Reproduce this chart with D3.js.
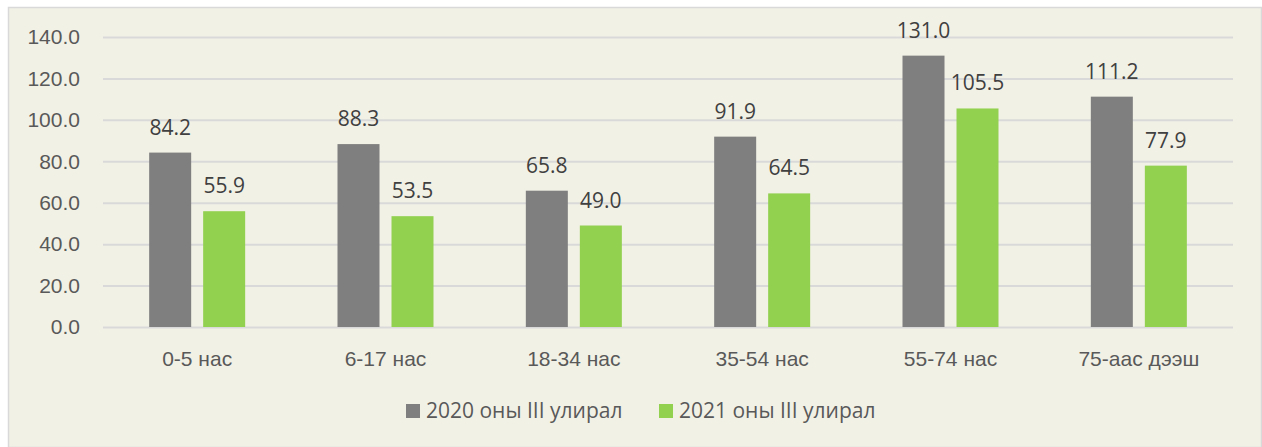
<!DOCTYPE html>
<html>
<head>
<meta charset="utf-8">
<script src="https://cdn.jsdelivr.net/npm/d3@7"></script>
<style>
  html, body { margin: 0; padding: 0; background: #fff; }
  svg { display: block; font-family: "Open Sans", sans-serif; }
</style>
</head>
<body>
<div id="chart"></div>
<script>
// chart values
const categories = ["0-5 нас", "6-17 нас", "18-34 нас", "35-54 нас", "55-74 нас", "75-аас дээш"];
const seriesNames = ["2020 оны III улирал", "2021 оны III улирал"];
const values2020 = [84.2, 88.3, 65.8, 91.9, 131.0, 111.2];
const values2021 = [55.9, 53.5, 49.0, 64.5, 105.5, 77.9];
const yTicks = [0, 20, 40, 60, 80, 100, 120, 140];

const colors = { s2020: "#7f7f7f", s2021: "#92d050", bg: "#f2f1e6", grid: "#d9d9d9", tick: "#595959", label: "#404040" };
const fontSize = "21px";

const width = 1262, height = 447;
const margin = { left: 103, right: 29, top: 37, bottom: 120 };

const svg = d3.select("#chart").append("svg")
    .attr("width", width)
    .attr("height", height);

// background box
svg.append("rect")
    .attr("x", 8.5).attr("y", 7.5)
    .attr("width", width - 9).attr("height", height - 7)
    .attr("fill", colors.bg)
    .attr("stroke", colors.grid)
    .attr("stroke-width", 1.5);

const data = categories.map((c, i) => ({ cat: c, vals: [values2020[i], values2021[i]] }));

const x0 = d3.scaleBand()
    .domain(categories)
    .range([margin.left, width - margin.right]);

const x1 = d3.scaleBand()
    .domain(seriesNames)
    .range([0, 96])
    .paddingInner(12 / 54);

const y = d3.scaleLinear()
    .domain([0, 140])
    .range([height - margin.bottom, margin.top]);

const color = d3.scaleOrdinal().domain(seriesNames).range([colors.s2020, colors.s2021]);

// y axis + gridlines
const yAxis = svg.append("g")
    .attr("transform", `translate(${margin.left},0)`)
    .call(d3.axisLeft(y).tickValues(yTicks).tickFormat(d3.format(".1f"))
        .tickSize(-(width - margin.left - margin.right)).tickPadding(23));
yAxis.select(".domain").remove();
yAxis.selectAll(".tick line").attr("stroke", colors.grid).attr("stroke-width", 2);
yAxis.selectAll(".tick text").attr("fill", colors.tick).style("font-size", fontSize);

// x axis labels
const xAxis = svg.append("g")
    .attr("transform", `translate(0,${y(0)})`)
    .call(d3.axisBottom(x0).tickSize(0).tickPadding(24));
xAxis.select(".domain").remove();
xAxis.selectAll(".tick text").attr("fill", colors.tick).style("font-size", fontSize);

// bars
const groups = svg.append("g").selectAll("g")
    .data(data)
    .join("g")
    .attr("transform", d => `translate(${x0(d.cat) + (x0.bandwidth() - 96) / 2},0)`);

const cells = groups.selectAll("g")
    .data(d => d.vals.map((v, i) => ({ key: seriesNames[i], value: v })))
    .join("g");

cells.append("rect")
    .attr("x", d => x1(d.key))
    .attr("y", d => y(d.value))
    .attr("width", x1.bandwidth())
    .attr("height", d => y(0) - y(d.value))
    .attr("fill", d => color(d.key));

cells.append("text")
    .attr("x", d => x1(d.key) + x1.bandwidth() / 2)
    .attr("y", d => y(d.value) - 18)
    .attr("text-anchor", "middle")
    .attr("fill", colors.label)
    .style("font-size", fontSize)
    .text(d => d3.format(".1f")(d.value));

// legend
const legend = svg.append("g").attr("transform", "translate(406,418)");
const legendX = [0, 253];
seriesNames.forEach((s, i) => {
    const g = legend.append("g").attr("transform", `translate(${legendX[i]},0)`);
    g.append("rect").attr("x", 0).attr("y", -14).attr("width", 14).attr("height", 14).attr("fill", color(s));
    g.append("text").attr("x", 20).attr("y", 0)
        .attr("fill", colors.tick)
        .style("font-size", fontSize)
        .text(s);
});
</script>
</body>
</html>
